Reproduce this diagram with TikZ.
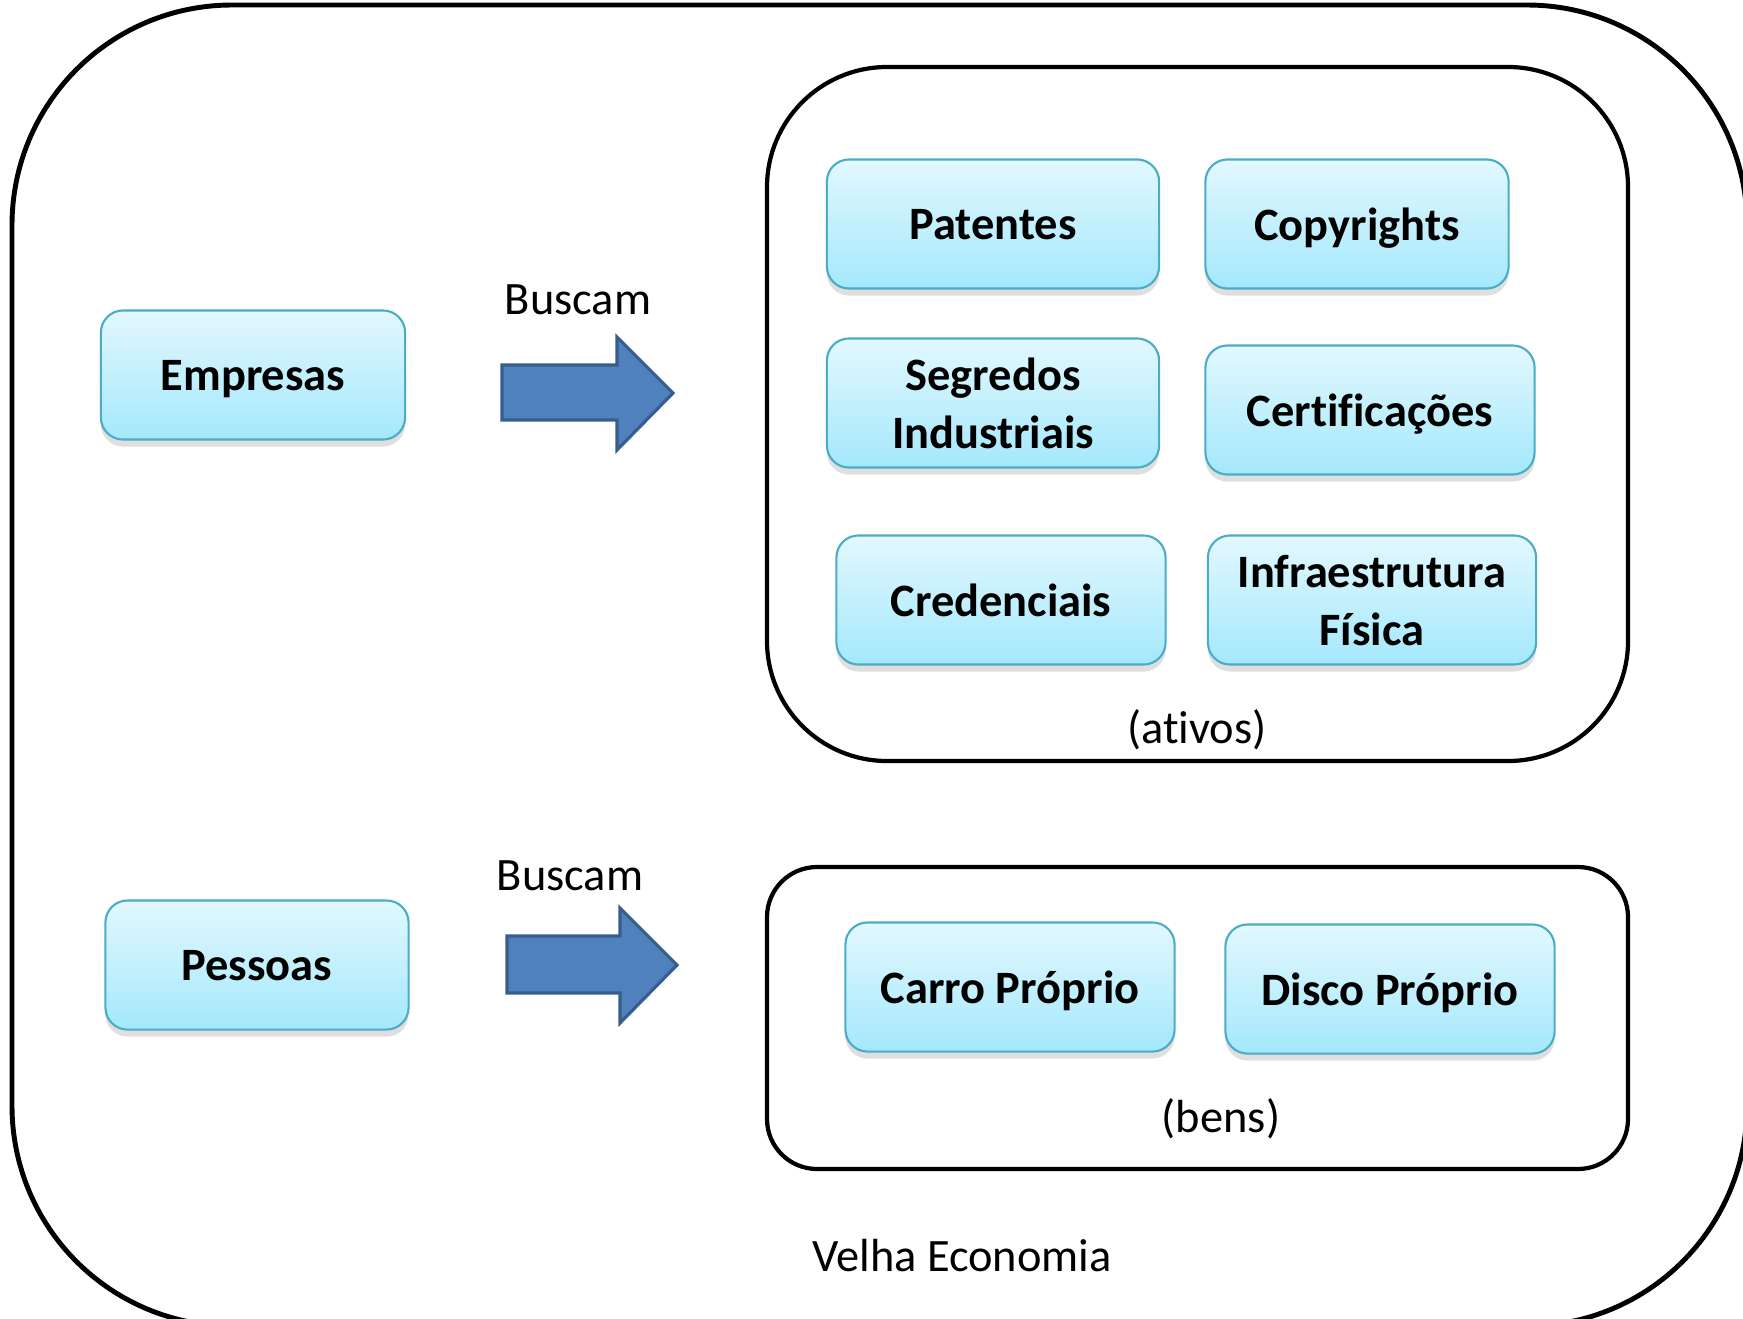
\documentclass[tikz,border=0pt]{standalone}
\usepackage{fontspec}
\setmainfont{Carlito}[Ligatures=NoCommon]
\usetikzlibrary{shadows}
\definecolor{boxline}{RGB}{75,172,198}
\definecolor{boxtop}{RGB}{226,248,254}
\definecolor{boxbottom}{RGB}{164,232,252}
\definecolor{arrowfill}{RGB}{79,129,189}
\definecolor{arrowline}{RGB}{56,93,138}
\tikzset{
	item/.style={draw=boxline, line width=0.6pt, rounded corners=0.22cm, top color=boxtop, bottom color=boxbottom, minimum height=1.29cm, inner sep=0pt, text depth=0pt, align=center, font=\fontsize{13.2}{16.5}\selectfont\bfseries, drop shadow={opacity=0.25, shadow xshift=0pt, shadow yshift=-2pt}},
	plain/.style={font=\fontsize{13.2}{16}\selectfont},
	frame/.style={line width=1.2pt},
	fatarrow/.style={fill=arrowfill, draw=arrowline, line width=0.9pt},
}

\begin{document}
\begin{tikzpicture}[x=0.01cm, y=-0.01cm]
			%%%%% START %%%%%
			
			\useasboundingbox (0, 0) rectangle (1743, 1318);
			
			\draw[line width=1.4pt, rounded corners=2.2cm] (12, 5) rectangle (1747, 1326);
			\draw[frame, rounded corners=1.2cm] (767, 67) rectangle (1628, 761);
			\draw[frame, rounded corners=0.5cm] (767, 867) rectangle (1628, 1169);
			
			\node[item, minimum width=3.04cm] (empresas) at (253, 375) {Empresas};
			\node[item, minimum width=3.03cm] (pessoas) at (257, 965) {Pessoas};
			
			\node[plain] (buscamA) at (578, 300) {Buscam};
			\draw[fatarrow] (502, 365) -- (617, 365) -- (617, 337) -- (673, 393) -- (617, 450) -- (617, 420) -- (502, 420) -- cycle;
			
			\node[plain] (buscamB) at (570, 876) {Buscam};
			\draw[fatarrow] (507, 936) -- (620, 936) -- (620, 908) -- (677, 965) -- (620, 1023) -- (620, 993) -- (507, 993) -- cycle;
			
			\node[item, minimum width=3.32cm] (patentes) at (993, 224) {Patentes};
			\node[item, minimum width=3.03cm] (copyrights) at (1357, 224) {Copyrights};
			\node[item, minimum width=3.32cm] (segredos) at (993, 403) {Segredos\\Industriais};
			\node[item, minimum width=3.29cm] (certificacoes) at (1370, 410) {Certificações};
			\node[item, minimum width=3.29cm] (credenciais) at (1001, 600) {Credenciais};
			\node[item, minimum width=3.28cm] (infra) at (1372, 600) {Infraestrutura\\Física};
			\node[plain] (ativos) at (1197, 730) {(ativos)};
			
			\node[item, minimum width=3.29cm] (carro) at (1010, 987) {Carro Próprio};
			\node[item, minimum width=3.29cm] (disco) at (1390, 989) {Disco Próprio};
			\node[plain] (bens) at (1221, 1119) {(bens)};
			
			\node[plain] (velha) at (962, 1256) {Velha Economia};
			
			%%%%% END %%%%%
		\end{tikzpicture}
\end{document}
